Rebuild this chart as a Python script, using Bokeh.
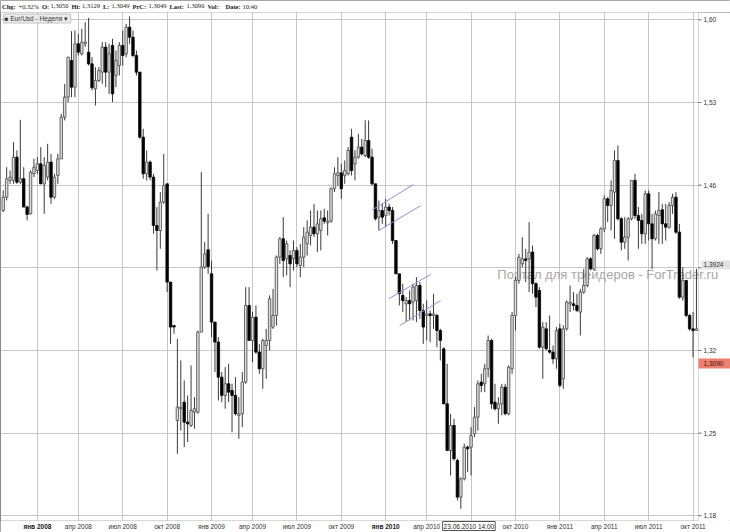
import pandas as pd
from bokeh.plotting import figure
from bokeh.models import Range1d, FixedTicker, Label, ColumnDataSource, BoxAnnotation
from bokeh.embed import file_html
from bokeh.resources import INLINE

# ---------------- data (weekly EUR/USD candles) -------------
open_ = [1.4385,1.4498,1.4640,1.4640,1.4837,1.4625,1.4654,1.4414,1.4357,1.4696,
         1.4724,1.4781,1.4611,1.4668,1.4795,1.4498,1.4682,1.4823,1.5176,1.5345,
         1.5656,1.5430,1.5797,1.5712,1.5797,1.5726,1.5627,1.5416,1.5486,1.5557,
         1.5769,1.5557,1.5783,1.5529,1.5613,1.5783,1.5712,1.5938,1.5853,1.5698,
         1.5557,1.5006,1.4696,1.4795,1.4668,1.4258,1.4216,1.4456,1.4611,1.3779,
         1.3412,1.2607,1.2706,1.2762,1.2593,1.2565,1.2678,1.2678,1.3355,1.3906,
         1.4052,1.3849,1.3440,1.3271,1.2974,1.2819,1.2918,1.2861,1.2819,1.2650,
         1.2664,1.2932,1.3581,1.3285,1.3482,1.3186,1.3045,1.3242,1.3285,1.3398,
         1.3496,1.3990,1.4146,1.3976,1.4004,1.3976,1.4047,1.3920,1.3990,1.4103,
         1.4174,1.4244,1.4188,1.4216,1.4323,1.4281,1.4295,1.4569,1.4682,1.4704,
         1.4682,1.4696,1.5006,1.4781,1.4837,1.4922,1.4851,1.4978,1.4837,1.4611,
         1.4329,1.4385,1.4343,1.4414,1.4385,1.4131,1.3849,1.3666,1.3595,1.3623,
         1.3609,1.3623,1.3750,1.3539,1.3496,1.3510,1.3496,1.3496,1.3369,1.3214,
         1.2748,1.2353,1.2565,1.2268,1.1958,1.2113,1.2381,1.2381,1.2494,1.2635,
         1.2932,1.2918,1.3045,1.3285,1.2762,1.2706,1.2748,1.2889,1.2664,1.3045,
         1.3496,1.3793,1.3934,1.3976,1.3976,1.4033,1.3765,1.3708,1.3228,1.3383,
         1.3200,1.3186,1.3129,1.3383,1.2960,1.3383,1.3595,1.3595,1.3581,1.3525,
         1.3694,1.3750,1.3976,1.3891,1.4174,1.4061,1.4230,1.4484,1.4428,1.4541,
         1.4809,1.4315,1.4117,1.4160,1.4315,1.4640,1.4343,1.4301,1.4188,1.4527,
         1.4272,1.4146,1.4343,1.4391,1.4272,1.4244,1.4428,1.4498,1.4202,1.3651,
         1.3793,1.3496,1.3383,1.3369]
high = [1.4555,1.4752,1.4724,1.4964,1.4894,1.5153,1.4752,1.4428,1.4724,1.4823,
        1.4837,1.4922,1.4837,1.4950,1.4865,1.4696,1.4865,1.5204,1.5458,1.5684,
        1.5904,1.5910,1.5881,1.5924,1.5980,1.6017,1.5684,1.5599,1.5599,1.5811,
        1.5811,1.5797,1.5839,1.5740,1.5811,1.5910,1.5966,1.6028,1.5910,1.5740,
        1.5557,1.5077,1.4894,1.4809,1.4696,1.4414,1.4541,1.4865,1.4611,1.3779,
        1.3412,1.3299,1.3115,1.2946,1.2819,1.3073,1.2805,1.3369,1.4710,1.4117,
        1.4357,1.3962,1.3440,1.3313,1.3017,1.3059,1.3087,1.2918,1.2974,1.2805,
        1.3017,1.3736,1.3736,1.3525,1.3581,1.3256,1.3299,1.3383,1.3666,1.3722,
        1.4004,1.4160,1.4329,1.4131,1.4047,1.4131,1.4075,1.4103,1.4244,1.4301,
        1.4385,1.4442,1.4385,1.4385,1.4400,1.4385,1.4583,1.4752,1.4837,1.4781,
        1.4809,1.4922,1.5077,1.4894,1.5035,1.4992,1.5148,1.5148,1.4908,1.4611,
        1.4470,1.4442,1.4484,1.4442,1.4414,1.4131,1.3849,1.3765,1.3651,1.3708,
        1.3765,1.3821,1.3779,1.3595,1.3623,1.3539,1.3680,1.3510,1.3383,1.3228,
        1.3087,1.2664,1.2621,1.2283,1.2127,1.2410,1.2396,1.2551,1.2720,1.2946,
        1.3002,1.3087,1.3327,1.3299,1.2918,1.2805,1.2918,1.2918,1.3073,1.3525,
        1.3821,1.4018,1.4160,1.4061,1.4287,1.4089,1.3779,1.3736,1.3440,1.3440,
        1.3496,1.3242,1.3398,1.3426,1.3412,1.3623,1.3750,1.3694,1.3680,1.3722,
        1.3891,1.3990,1.3990,1.4188,1.4188,1.4244,1.4513,1.4498,1.4640,1.4894,
        1.4936,1.4329,1.4329,1.4329,1.4640,1.4696,1.4414,1.4357,1.4555,1.4555,
        1.4357,1.4385,1.4541,1.4442,1.4442,1.4456,1.4527,1.4541,1.4272,1.3906,
        1.3793,1.3510,1.3525,1.3891]
low = [1.4371,1.4470,1.4611,1.4611,1.4611,1.4611,1.4414,1.4301,1.4352,1.4668,
       1.4696,1.4611,1.4357,1.4640,1.4442,1.4484,1.4611,1.4823,1.5148,1.5303,
       1.5345,1.5345,1.5698,1.5698,1.5769,1.5613,1.5402,1.5275,1.5472,1.5458,
       1.5430,1.5373,1.5303,1.5430,1.5529,1.5613,1.5684,1.5797,1.5684,1.5529,
       1.4992,1.4654,1.4640,1.4640,1.4188,1.3877,1.4061,1.4442,1.3694,1.3256,
       1.3341,1.2325,1.2522,1.2381,1.2424,1.2551,1.2537,1.2664,1.3355,1.3891,
       1.3849,1.3313,1.3017,1.2777,1.2762,1.2706,1.2762,1.2508,1.2650,1.2452,
       1.2551,1.2918,1.3285,1.3101,1.3172,1.3002,1.2875,1.2960,1.3200,1.3383,
       1.3412,1.3934,1.3821,1.3835,1.3736,1.3877,1.3906,1.3821,1.3906,1.4004,
       1.4089,1.4160,1.4033,1.4047,1.4272,1.4174,1.4281,1.4541,1.4597,1.4484,
       1.4611,1.4682,1.4682,1.4640,1.4823,1.4851,1.4837,1.4823,1.4597,1.4301,
       1.4216,1.4272,1.4244,1.4343,1.4103,1.3849,1.3581,1.3525,1.3440,1.3454,
       1.3454,1.3440,1.3468,1.3256,1.3285,1.3271,1.3383,1.3228,1.3115,1.2748,
       1.2353,1.2141,1.2268,1.1930,1.1859,1.2099,1.2170,1.2141,1.2466,1.2522,
       1.2847,1.2847,1.2974,1.2706,1.2692,1.2579,1.2650,1.2650,1.2650,1.3002,
       1.3369,1.3765,1.3906,1.3779,1.3694,1.3680,1.3567,1.3214,1.2960,1.3200,
       1.3172,1.3087,1.3045,1.2889,1.2875,1.3369,1.3525,1.3539,1.3525,1.3327,
       1.3680,1.3736,1.3877,1.3877,1.4047,1.4018,1.4202,1.4287,1.4216,1.4146,
       1.4301,1.4047,1.4061,1.3962,1.4301,1.4315,1.4061,1.4103,1.4103,1.4131,
       1.3891,1.4131,1.4103,1.4103,1.4131,1.4230,1.4357,1.4188,1.3637,1.3623,
       1.3482,1.3369,1.3143,1.3369]
close = [1.4498,1.4654,1.4668,1.4837,1.4625,1.4654,1.4414,1.4352,1.4710,1.4752,
         1.4781,1.4611,1.4767,1.4795,1.4498,1.4668,1.4823,1.5176,1.5345,1.5684,
         1.5430,1.5797,1.5726,1.5811,1.5811,1.5627,1.5424,1.5486,1.5571,1.5769,
         1.5557,1.5712,1.5373,1.5656,1.5783,1.5698,1.5938,1.5853,1.5698,1.5557,
         1.5006,1.4696,1.4795,1.4668,1.4258,1.4216,1.4456,1.4597,1.3779,1.3398,
         1.3398,1.2720,1.2720,1.2593,1.2579,1.2692,1.2706,1.3355,1.3906,1.4018,
         1.3911,1.3440,1.3271,1.2974,1.2819,1.2918,1.2847,1.2819,1.2664,1.2664,
         1.2932,1.3581,1.3285,1.3482,1.3186,1.3045,1.3285,1.3285,1.3637,1.3496,
         1.3990,1.4146,1.3962,1.4103,1.3934,1.4047,1.3934,1.3990,1.4160,1.4202,
         1.4244,1.4188,1.4272,1.4315,1.4295,1.4295,1.4569,1.4696,1.4704,1.4569,
         1.4724,1.4894,1.4724,1.4837,1.4922,1.4865,1.4978,1.4837,1.4611,1.4315,
         1.4385,1.4329,1.4414,1.4385,1.4131,1.3849,1.3680,1.3623,1.3623,1.3595,
         1.3736,1.3750,1.3539,1.3398,1.3510,1.3496,1.3510,1.3369,1.3285,1.2748,
         1.2353,1.2565,1.2283,1.1958,1.2113,1.2381,1.2367,1.2480,1.2635,1.2918,
         1.2904,1.3045,1.3285,1.2748,1.2706,1.2748,1.2889,1.2664,1.3059,1.3496,
         1.3793,1.3990,1.3976,1.3962,1.4033,1.3765,1.3651,1.3228,1.3398,1.3214,
         1.3186,1.3129,1.3369,1.2904,1.3383,1.3609,1.3609,1.3581,1.3539,1.3694,
         1.3750,1.3976,1.3891,1.4174,1.4061,1.4230,1.4484,1.4428,1.4555,1.4809,
         1.4315,1.4117,1.4160,1.4315,1.4640,1.4343,1.4301,1.4188,1.4527,1.4272,
         1.4146,1.4357,1.4385,1.4272,1.4244,1.4428,1.4498,1.4202,1.3651,1.3793,
         1.3496,1.3383,1.3369,1.3383]

# weekly bars (Mondays); the feed has no bar for the New-Year weeks
first_week = "2007-10-22"
last_week = "2011-10-03"
missing_weeks = ["2007-12-31", "2008-12-29", "2009-12-28"]

# x axis: quarter starts and their labels
quarter_starts = ["2008-01-01", "2008-04-01", "2008-07-01", "2008-10-01",
                  "2009-01-01", "2009-04-01", "2009-07-01", "2009-10-01",
                  "2010-01-01", "2010-04-01", "2010-07-01", "2010-10-01",
                  "2011-01-01", "2011-04-01", "2011-07-01", "2011-10-01"]
quarter_labels = ["янв 2008", "апр 2008", "июл 2008", "окт 2008",
                  "янв 2009", "апр 2009", "июл 2009", "окт 2009",
                  "янв 2010", "апр 2010", "июл 2010", "окт 2010",
                  "янв 2011", "апр 2011", "июл 2011", "окт 2011"]
bold_labels = ["янв 2008", "янв 2010"]

# y axis
y_ticks = [1.18, 1.25, 1.32, 1.39, 1.46, 1.53, 1.60]
y_labels = ["1,18", "1,25", "1,32", "", "1,46", "1,53", "1,60"]

# markers shown on the chart
cursor_time = "2010-06-23 14:00"
cursor_text = "23.06.2010 14:00"
cursor_price = 1.3924
last_price = 1.3090

# hand-drawn channel lines (bar index, price)
channel_x = [[108.1, 120.1], [110.0, 122.2], [112.9, 125.1], [116.1, 128.1]]
channel_y = [[1.4391, 1.4605], [1.4216, 1.4425], [1.3638, 1.3843], [1.3411, 1.3623]]

# quote header: (text, bold, left edge in px from the left edge of the picture)
header = [("Chg:", True, 1.5), ("+0,32%", False, 18.0), ("O:", True, 41.5), ("1,3050", False, 50.0),
          ("Hi:", True, 71.0), ("1,3129", False, 81.5), ("L:", True, 102.5), ("1,3049", False, 111.0),
          ("PrC:", True, 132.0), ("1,3049", False, 148.0), ("Last:", True, 169.0), ("1,3090", False, 186.0),
          ("Vol:", True, 207.0), ("Date:", True, 225.0), ("10:40", False, 242.0)]

watermark = "Портал для трейдеров - ForTrader.ru"
watermark_at = (144.7, 1.3843)   # bar index of the text start, price of its middle

# ---------------- layout ----------------
W, H = 730, 532                  # whole picture
AREA_W, AREA_H, TOP = 698, 508, 12   # candle area and header height (px)
PX0, PX1 = -0.8, 203.6           # bar-index span of the candle area
PY0, PY1 = 1.1760, 1.6062        # price span of the candle area
ux = (PX1 - PX0) / AREA_W        # bar units per px
uy = (PY1 - PY0) / AREA_H        # price units per px
XR = (PX0, PX1 + (W - AREA_W) * ux)
YR = (PY0 - (H - AREA_H - TOP) * uy, PY1 + TOP * uy)

# ---------------- derived ----------------
weeks = pd.date_range(first_week, last_week, freq="7D")
dates = weeks.difference(pd.to_datetime(missing_weeks))
n = len(dates)
idx = list(range(n))

def bar_index(ts):
    ts = pd.Timestamp(ts)
    for i, d in enumerate(dates):
        if d + pd.Timedelta(days=6) >= ts:
            return i
    return n - 1

x_ticks = [bar_index(q) for q in quarter_starts]
x_over = {}
for t, lab in zip(x_ticks, quarter_labels):
    x_over[t] = "" if (lab in bold_labels or lab == "июл 2010") else lab
y_over = {t: l for t, l in zip(y_ticks, y_labels)}

ci = bar_index(cursor_time)
cursor_x = ci + (pd.Timestamp(cursor_time) - dates[ci]) / pd.Timedelta(days=7)

up = [c >= o for o, c in zip(open_, close)]
src = ColumnDataSource(dict(
    x=idx, high=high, low=low,
    top=[max(o, c) for o, c in zip(open_, close)],
    bottom=[min(o, c) for o, c in zip(open_, close)],
    fill=["#dcdcdc" if u else "#000000" for u in up],
    line=["#474747" if u else "#000000" for u in up],
))

p = figure(frame_width=W, frame_height=H, output_backend="svg", toolbar_location=None,
           x_range=Range1d(*XR), y_range=Range1d(*YR), y_axis_location="right",
           min_border=0, min_border_left=0, min_border_right=0,
           min_border_top=0, min_border_bottom=0)
p.outline_line_color = "#8a8a8a"
p.background_fill_color = "white"

FONT = "Liberation Sans"
FS = "6.5px"

# x axis: labels pulled up into the bottom strip
p.xaxis.ticker = FixedTicker(ticks=x_ticks)
p.xaxis.major_label_overrides = x_over
p.xaxis.major_tick_out = 0
p.xaxis.major_tick_in = 0
p.xaxis.minor_tick_out = 0
p.xaxis.minor_tick_in = 0
p.xaxis.minor_tick_line_color = None
p.xaxis.major_tick_line_color = None
p.xaxis.axis_line_color = None
p.xaxis.major_label_standoff = -(H - AREA_H - TOP) + 2
p.xaxis.major_label_text_font = FONT
p.xaxis.major_label_text_font_size = FS
p.xaxis.major_label_text_color = "#333333"

# y axis: labels pulled left into the price strip
p.yaxis.ticker = FixedTicker(ticks=y_ticks)
p.yaxis.major_label_overrides = y_over
p.yaxis.major_tick_out = 0
p.yaxis.major_tick_in = 0
p.yaxis.minor_tick_out = 0
p.yaxis.minor_tick_in = 0
p.yaxis.minor_tick_line_color = None
p.yaxis.major_tick_line_color = None
p.yaxis.axis_line_color = None
p.yaxis.major_label_standoff = -(W - AREA_W) + 5
p.yaxis.major_label_text_font = FONT
p.yaxis.major_label_text_font_size = FS
p.yaxis.major_label_text_color = "#333333"

p.xgrid.ticker = FixedTicker(ticks=x_ticks)
p.ygrid.ticker = FixedTicker(ticks=y_ticks)
p.grid.grid_line_color = "#c6c6c6"
p.grid.grid_line_width = 1

# white strips over the grid outside the candle area (header, time strip, price strip)
for kw in (dict(bottom=PY1), dict(top=PY0), dict(left=PX1 + 3 * ux, bottom=PY0, top=PY1)):
    p.add_layout(BoxAnnotation(fill_color="white", fill_alpha=1, line_alpha=0,
                               level="underlay", **kw))

# watermark (behind the candles)
p.add_layout(Label(x=watermark_at[0], y=watermark_at[1], text=watermark,
                   text_baseline="middle", text_font=FONT, text_font_size="13px",
                   text_color="#a8a8a8", level="underlay"))

# candles
p.segment(x0="x", y0="low", x1="x", y1="high", source=src, line_color="#3a3a3a", line_width=1)
p.vbar(x="x", width=0.72, top="top", bottom="bottom", source=src,
       fill_color="fill", line_color="line", line_width=0.8)

# channel lines
p.multi_line(xs=channel_x, ys=channel_y, line_color="#9090d8", line_width=1)

# candle-area border (header line, price axis line, time axis line)
p.add_layout(BoxAnnotation(left=XR[0], right=PX1, bottom=PY0, top=PY1, fill_alpha=0,
                           line_color="#7a7a7a", line_width=1))
p.add_layout(BoxAnnotation(left=PX1, bottom=PY1, top=PY1, fill_alpha=0,
                           line_color="#7a7a7a", line_width=1))

# small price-axis ticks
p.segment(x0=[PX1] * len(y_ticks), y0=y_ticks, x1=[PX1 + 3 * ux] * len(y_ticks), y1=y_ticks,
          line_color="#7a7a7a", line_width=1)

# instrument box
p.add_layout(Label(x=XR[0], y=PY1, x_offset=3, y_offset=-1.5, text="■ Eur/Usd - Неделя  ▾",
                   text_baseline="top", text_font=FONT, text_font_size=FS,
                   text_color="#333333", background_fill_color="#ebebeb",
                   border_line_color="#c4c4c4", padding=1))

# quote header
for txt, bold, lx in header:
    p.add_layout(Label(x=XR[0] + lx * ux, y=PY1, y_offset=TOP / 2 + 0.5, text=txt,
                       text_align="left", text_baseline="middle",
                       text_font="Liberation Serif", text_font_size="6.5px",
                       text_font_style="bold" if bold else "normal", text_color="#1a1a1a"))

# bold january labels
for t, lab in zip(x_ticks, quarter_labels):
    if lab in bold_labels:
        p.add_layout(Label(x=t, y=PY0, y_offset=-2, text=lab, text_align="center",
                           text_baseline="top", text_font=FONT, text_font_size=FS,
                           text_font_style="bold", text_color="#1a1a1a"))

# cursor time box
p.add_layout(Label(x=cursor_x, y=PY0, y_offset=-1, text=cursor_text, text_align="center",
                   text_baseline="top", text_font=FONT, text_font_size=FS,
                   text_color="#1a1a1a", background_fill_color="white",
                   border_line_color="#555555", padding=1))

# price boxes
p.add_layout(BoxAnnotation(left=PX1 + 3 * ux, bottom=cursor_price - 4.5 * uy,
                           top=cursor_price + 4.5 * uy, fill_color="#e2e2e2",
                           fill_alpha=1, line_alpha=0))
p.add_layout(Label(x=PX1, y=cursor_price, x_offset=5, text=f"{cursor_price:.4f}".replace(".", ","),
                   text_baseline="middle", text_font=FONT, text_font_size=FS,
                   text_color="#333333"))
p.add_layout(BoxAnnotation(left=PX1, bottom=last_price - 5 * uy, top=last_price + 5 * uy,
                           fill_color="#ef7f6e", fill_alpha=1, line_alpha=0))
p.add_layout(Label(x=PX1, y=last_price, x_offset=5, text=f"{last_price:.4f}".replace(".", ","),
                   text_baseline="middle", text_font=FONT, text_font_size=FS,
                   text_color="#3a1010"))

open("out.html", "w").write(file_html(p, INLINE))
